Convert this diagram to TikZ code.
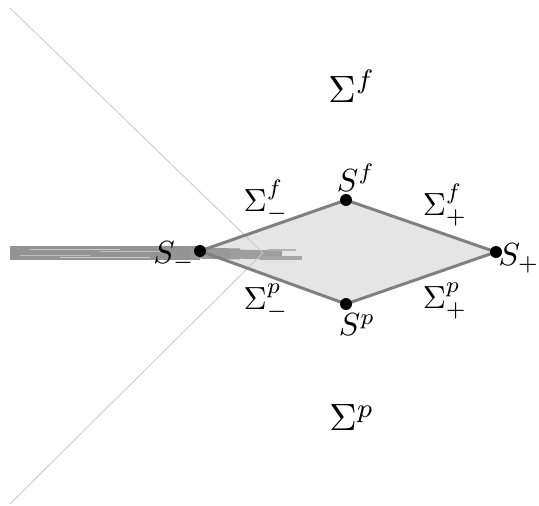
\documentclass[tikz,border=0pt]{standalone}
\usepackage{graphicx}
\newcommand\smlbl[1]{\scalebox{3.2}{$#1$}}
\newcommand\bglbl[1]{\scalebox{3.8}{$#1$}}
\begin{document}
\begin{tikzpicture}[x=1pt,y=-1pt,
  edge/.style={draw=black!50,line width=3pt,line join=round},
  ray/.style={draw=black!22,line width=0.8pt},
  dot/.style={circle,fill=black,inner sep=0pt,minimum size=12pt},
  lab/.style={inner sep=0pt},
  brush/.style={draw=black!42,line cap=butt}]
\useasboundingbox (0,0) rectangle (539,506);
\coordinate (Sm) at (200,251);
\coordinate (Sf) at (346,200);
\coordinate (Sp) at (346,304);
\coordinate (Sq) at (496,252);
\coordinate (apex) at (263,253);
\coordinate (rt) at (10,8);
\coordinate (rb) at (10,504);
% diamond fill
\fill[black!10] (Sm) -- (Sf) -- (Sq) -- (Sp) -- cycle;
% brush stroke
\draw[brush,line width=14pt] (10,253) -- (200,253);
\draw[brush,line width=11pt,draw=black!40] (190,253) -- (240,254);
\draw[brush,line width=9pt,draw=black!38] (230,254) -- (282,255);
\draw[brush,line width=4pt,draw=black!35] (260,258) -- (302,258);
\draw[brush,line width=2pt,draw=black!30] (268,250) -- (296,250);
\draw[white,line width=0.6pt,opacity=0.5] (30,249) -- (120,249);
\draw[white,line width=0.6pt,opacity=0.5] (60,257) -- (150,257);
\draw[white,line width=0.5pt,opacity=0.4] (20,255) -- (90,255);
\draw[white,line width=0.5pt,opacity=0.4] (100,251) -- (170,251);
% light rays
\draw[ray] (rt) -- (apex) -- (rb);
% diamond edges
\draw[edge] (Sm) -- (Sf) -- (Sq) -- (Sp) -- cycle;
% dots
\node[dot] (nSm) at (Sm) {};
\node[dot] (nSf) at (Sf) {};
\node[dot] (nSp) at (Sp) {};
\node[dot] (nSq) at (Sq) {};
% labels
\node[lab] (Lf) at (352,86) {\bglbl{\Sigma^f}};
\node[lab] (Lp) at (352,418) {\bglbl{\Sigma^p}};
\node[lab] (LSf) at (356,178) {\smlbl{S^f}};
\node[lab] (LSp) at (357,325) {\smlbl{S^p}};
\node[lab] (LSm) at (174,256) {\smlbl{S_-}};
\node[lab] (LSq) at (519,258) {\smlbl{S_+}};
\node[lab] (Lmf) at (266,201) {\smlbl{\Sigma^f_-}};
\node[lab] (Lpf) at (445,205) {\smlbl{\Sigma^f_+}};
\node[lab] (Lmp) at (266,302) {\smlbl{\Sigma^p_-}};
\node[lab] (Lpp) at (445,301) {\smlbl{\Sigma^p_+}};
\end{tikzpicture}
\end{document}
